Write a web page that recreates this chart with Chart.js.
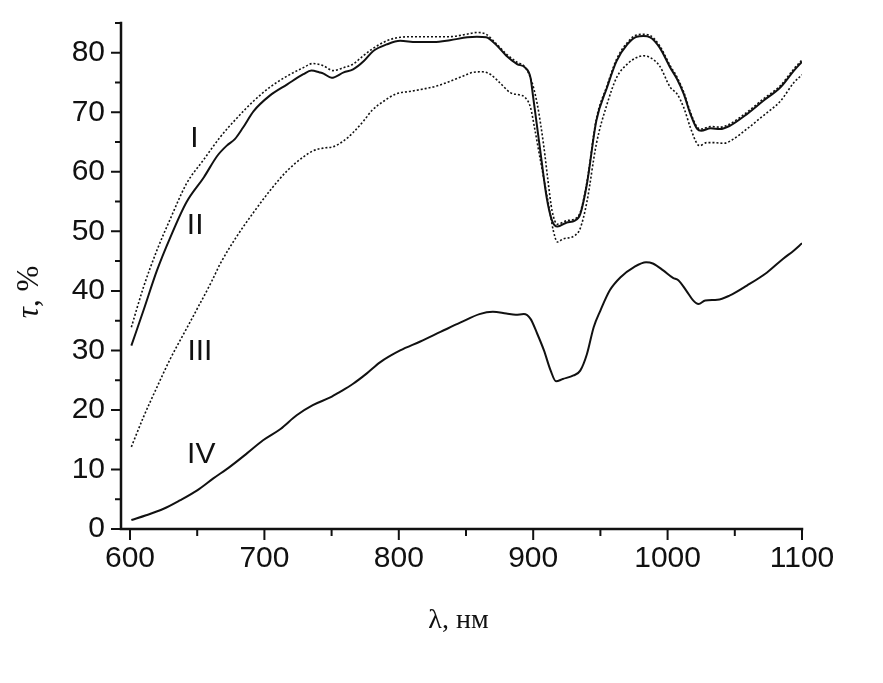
<!DOCTYPE html>
<html><head><meta charset="utf-8">
<script src="https://cdn.jsdelivr.net/npm/chart.js@4.4.0/dist/chart.umd.min.js"></script>
<style>html,body{margin:0;padding:0;background:#fff;} canvas{display:block;}</style>
</head><body>
<canvas id="c" width="883" height="683" style="width:883px;height:683px"></canvas>
<script>
// Curve I (upper dotted)
const lamI = [601,610,620,630,642,655,667,679,692,704,717,729,736,744,751,759,766,772,780,791,801,813,826,838,850,858,865,873,880,888,893,898,903,908,911,914,918,925,931,935,940,947,955,962,970,977,982,987,994,1002,1007,1012,1017,1022,1025,1032,1039,1046,1059,1071,1084,1094,1100];
const tauI = [33.9,40.6,46.8,52.1,58.0,62.1,65.8,68.9,71.9,74.2,76.1,77.5,78.2,77.8,77.0,77.5,78.1,79.2,80.6,82.0,82.6,82.7,82.7,82.7,83.1,83.4,83.1,81.4,79.8,78.4,77.8,75.8,71.4,64.1,58.5,53.5,51.2,51.8,52.1,53.2,58.3,68.9,74.5,78.9,81.7,83.0,83.1,82.9,81.2,77.8,75.9,73.4,70.0,67.5,67.2,67.6,67.5,68.0,70.0,72.2,74.5,77.3,78.8];
// Curve II (solid)
const lamII = [601,610,620,630,642,655,665,672,678,684,692,704,717,729,735,741,744,750,759,766,774,781,791,801,813,826,838,851,858,865,873,880,888,894,898,900,905,910,914,918,925,931,935,940,947,955,962,970,977,982,987,994,1002,1007,1012,1017,1022,1025,1032,1039,1046,1059,1071,1084,1094,1100];
const tauII = [30.8,36.7,43.4,49.0,54.9,59.1,62.7,64.4,65.5,67.4,70.2,72.8,74.7,76.4,77.0,76.7,76.5,75.8,76.7,77.2,78.6,80.3,81.4,82.0,81.8,81.8,82.1,82.6,82.7,82.6,81.2,79.5,78.1,77.5,75.8,72.5,64.0,55.7,51.8,50.8,51.5,51.8,52.9,58.0,68.6,74.2,78.6,81.4,82.7,82.8,82.6,80.9,77.5,75.6,73.1,69.7,67.2,66.9,67.3,67.2,67.7,69.7,71.9,74.2,77.0,78.5];
// Curve III (lower dotted)
const lamIII = [601,610,620,630,640,650,661,667,679,692,704,717,729,736,744,751,759,766,774,780,789,798,808,818,828,838,848,855,862,868,875,883,890,894,898,901,905,910,913,915,918,922,931,935,940,947,955,962,970,977,982,987,994,1002,1007,1012,1017,1022,1024,1029,1034,1042,1049,1059,1071,1084,1094,1100];
const tauIII = [13.8,18.8,23.8,28.6,32.8,37.0,41.7,44.5,49.0,53.2,56.8,60.2,62.5,63.5,64.0,64.2,65.2,66.6,68.6,70.3,71.9,73.1,73.5,73.9,74.4,75.2,76.1,76.7,76.8,76.4,75.0,73.3,72.9,72.5,70.8,67.4,62.4,56.3,52.5,50.1,48.2,48.7,49.3,50.5,55.0,64.7,71.4,75.8,78.1,79.2,79.5,79.2,77.8,74.2,73.1,70.8,67.4,64.7,64.4,64.9,64.9,64.8,65.5,67.2,69.4,71.9,75.0,76.3];
// Curve IV (bottom solid)
const lamIV = [601,612,625,637,650,662,674,687,699,712,724,736,749,756,766,776,786,801,816,831,846,860,870,880,887,893,898,903,908,913,917,922,930,935,940,945,950,957,965,975,984,989,997,1004,1008,1014,1019,1023,1028,1037,1046,1059,1074,1086,1094,1100];
const tauIV = [1.5,2.3,3.4,4.8,6.5,8.5,10.4,12.7,14.9,16.8,19.1,20.8,22.1,23.0,24.4,26.1,28.0,30.0,31.5,33.1,34.7,36.1,36.5,36.2,36.0,36.1,35.3,32.8,30.0,26.6,24.8,25.2,25.8,26.6,29.4,33.9,36.7,40.1,42.3,44.0,44.8,44.6,43.4,42.2,41.8,40.0,38.4,37.8,38.4,38.5,39.2,40.9,43.1,45.4,46.8,48.0];

const xTicks = [600,650,700,750,800,850,900,950,1000,1050,1100];
const yTicks = [0,5,10,15,20,25,30,35,40,45,50,55,60,65,70,75,80,85];
const curveNames = ['I','II','III','IV'];
const nameLam = [648,648.5,652,653];
const nameTau = [65.6,50.9,29.8,12.5];
const xTitle = 'λ, нм';
const yTitleSym = 'τ';
const yTitleRest = ', %';

const pts = (xs, ys) => xs.map((x,i)=>({x:x, y:ys[i]}));
const INK = '#111';
const sans = "'Liberation Sans', Arial, sans-serif";
const serif = "'Liberation Serif', 'Times New Roman', serif";

const decor = {
  id:'decor',
  afterDraw(chart){
    const {ctx, chartArea:a, scales:{x, y}} = chart;
    ctx.save();
    ctx.strokeStyle = INK; ctx.fillStyle = INK;
    ctx.lineWidth = 2.5; ctx.lineCap = 'square';
    ctx.beginPath();
    ctx.moveTo(a.left, a.top); ctx.lineTo(a.left, a.bottom); ctx.lineTo(a.right, a.bottom);
    ctx.stroke();
    ctx.lineWidth = 2; ctx.lineCap = 'butt';
    ctx.beginPath();
    xTicks.forEach(v=>{
      const px = x.getPixelForValue(v); const len = v%100===0 ? 11 : 7;
      ctx.moveTo(px, a.bottom); ctx.lineTo(px, a.bottom+len);
    });
    yTicks.forEach(v=>{
      const py = y.getPixelForValue(v); const len = v%10===0 ? 10 : 6;
      ctx.moveTo(a.left, py); ctx.lineTo(a.left-len, py);
    });
    ctx.stroke();
    ctx.font = '30px ' + sans; ctx.textAlign = 'center'; ctx.textBaseline = 'middle';
    curveNames.forEach((n,i)=>{
      ctx.fillText(n, x.getPixelForValue(nameLam[i]), y.getPixelForValue(nameTau[i]));
    });
    ctx.font = '28px ' + serif; ctx.textBaseline = 'middle';
    ctx.fillText(xTitle, (a.left+a.right)/2 - 3, 621);
    ctx.translate(30, 292); ctx.rotate(-Math.PI/2);
    ctx.font = 'italic 31px ' + serif;
    const w1 = ctx.measureText(yTitleSym).width;
    ctx.font = '31px ' + serif;
    const w2 = ctx.measureText(yTitleRest).width;
    const start = -(w1+w2)/2;
    ctx.textAlign = 'left';
    ctx.font = 'italic 31px ' + serif;
    ctx.fillText(yTitleSym, start, 0);
    ctx.font = '31px ' + serif;
    ctx.fillText(yTitleRest, start + w1, 0);
    ctx.restore();
  }
};

const solid = (data) => ({data, borderColor:INK, borderWidth:2, pointRadius:0, fill:false, cubicInterpolationMode:'monotone'});
const dotted = (data) => ({data, borderColor:INK, borderWidth:1.6, borderDash:[2,2], pointRadius:0, fill:false, cubicInterpolationMode:'monotone'});

new Chart(document.getElementById('c'), {
  type:'line',
  data:{ datasets:[
    dotted(pts(lamI, tauI)),
    solid(pts(lamII, tauII)),
    dotted(pts(lamIII, tauIII)),
    solid(pts(lamIV, tauIV))
  ]},
  options:{
    responsive:false, animation:false, devicePixelRatio:1,
    layout:{padding:{left:0, right:81, top:23, bottom:0}},
    plugins:{legend:{display:false}, tooltip:{enabled:false}},
    scales:{
      x:{type:'linear', min:593.3, max:1100,
        afterBuildTicks:s=>{ s.ticks = xTicks.map(v=>({value:v})); },
        afterFit:s=>{ s.height = 154; s.paddingLeft = 0; s.paddingRight = 0; },
        ticks:{autoSkip:false, maxRotation:0, minRotation:0, padding:12, color:INK, font:{family:sans, size:30},
          callback:v=> v%100===0 ? String(v) : ''},
        grid:{display:false, drawTicks:false}, border:{display:false}},
      y:{type:'linear', min:0, max:85,
        afterBuildTicks:s=>{ s.ticks = yTicks.map(v=>({value:v})); },
        afterFit:s=>{ s.width = 121; s.paddingTop = 0; s.paddingBottom = 0; },
        ticks:{autoSkip:false, padding:16, color:INK, font:{family:sans, size:30},
          callback:v=> v%10===0 && v<=80 ? String(v) : ''},
        grid:{display:false, drawTicks:false}, border:{display:false}}
    }
  },
  plugins:[decor]
});
</script>
</body></html>
